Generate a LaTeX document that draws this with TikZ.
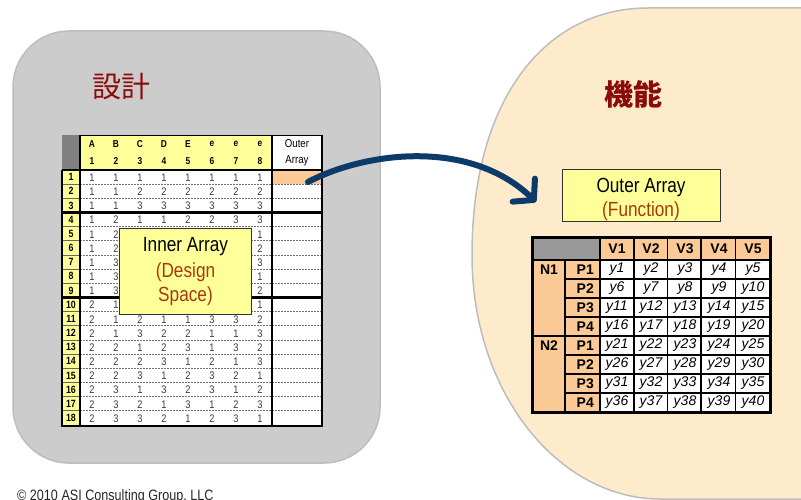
\documentclass[tikz,border=0pt]{standalone}
\usepackage{fontspec}
\setmainfont{Liberation Sans}
\newfontfamily\narrowfont[FakeStretch=0.84]{Liberation Sans}
\newfontfamily\cjk{Noto Sans CJK JP}
\usetikzlibrary{arrows.meta}

\definecolor{panelgray}{HTML}{CCCCCC}
\definecolor{paneledge}{HTML}{BDBDBD}
\definecolor{cream}{HTML}{FDEBCC}
\definecolor{paleyellow}{HTML}{FFFF99}
\definecolor{peach}{HTML}{FCCA96}
\definecolor{darkred}{HTML}{8B0A0A}
\definecolor{rust}{HTML}{A63A0E}
\definecolor{navy}{HTML}{0B3A6B}
\definecolor{cellgray}{HTML}{999999}
\definecolor{cornergray}{HTML}{808080}
\definecolor{digitgray}{HTML}{3A3A3A}

\tikzset{
  title/.style={font=\cjk\fontsize{29}{32}\selectfont, text=darkred, inner sep=0pt},
  lcell/.style={font=\narrowfont\fontsize{11}{12}\selectfont, text=digitgray, inner sep=0pt},
  lnum/.style={font=\narrowfont\bfseries\fontsize{10.5}{12}\selectfont, inner sep=0pt},
  lhead/.style={font=\narrowfont\bfseries\fontsize{10}{11}\selectfont, inner sep=0pt},
  callout/.style={fill=paleyellow, draw=black!80, line width=0.8pt},
  calloutfont/.style={font=\narrowfont\fontsize{20.5}{24}\selectfont, inner sep=0pt},
  rhead/.style={font=\bfseries\fontsize{14}{16}\selectfont, inner sep=0pt},
  rcell/.style={font=\itshape\fontsize{14}{16}\selectfont, inner sep=0pt},
  thickrule/.style={line width=2.6pt},
  gridrule/.style={line width=1.3pt},
  rowrule/.style={draw=black!55, line width=0.8pt, dash pattern=on 2pt off 1pt},
}

% one row of the L18 inner array: row number, then eight levels;
% rows 5-10, columns 3-7 sit under the callout and are left out
\newcommand\lrow[9]{%
  \node[lnum] (n#1) at (71,{170+14.17*(#1-0.5)}) {#1};
  \foreach \v [count=\c] in {#2,#3,#4,#5,#6,#7,#8,#9}{
    \pgfmathtruncatemacro\hidden{(#1>4)*(#1<11)*(\c>2)*(\c<8)}
    \ifnum\hidden=0
      \node[lcell] (L#1-\c) at ({68+24*\c},{170+14.17*(#1-0.5)+0.5}) {\v};
    \fi
  }
}

% one row of the outer array: position label, then five responses
\newcommand\rrow[2]{%
  \node[rhead, anchor=east] (P#1) at (594,{260+19*(#1-0.5)}) {P#2};
  \foreach \c in {1,...,5}{
    \pgfmathtruncatemacro\k{5*(#1-1)+\c}
    \node[rcell] (y\k) at ({600+34*(\c-0.5)},{260+19*(#1-0.5)}) {y\k};
  }
}

\begin{document}
\begin{tikzpicture}[x=1pt,y=-1pt]
\useasboundingbox (0,0) rectangle (801,500);
\clip (0,0) rectangle (801,500);

% design panel
\draw[fill=panelgray, draw=paneledge, line width=1.5pt, rounded corners=56pt]
  (13,31) rectangle (380,463);
\node[title] (design) at (121,87) {設計};

% function panel
\draw[fill=cream, draw=paneledge, line width=1.5pt]
  (820,8) -- (648,8) .. controls (548,8) and (472,95) .. (472,255)
  .. controls (472,395) and (560,499) .. (660,499) -- (820,499);
\node[title, font=\cjk\bfseries\fontsize{29}{32}\selectfont] (function) at (633,94) {機能};

% ---------- inner array (L18) ----------
\fill[cornergray] (62,135) rectangle (80,170);
\fill[paleyellow] (80,135) rectangle (272,170);
\fill[white] (272,135) rectangle (322,170);
\fill[paleyellow] (62,170) rectangle (80,426);
\fill[white] (80,170) rectangle (322,426);
\fill[peach] (272,171) rectangle (322,184.2);

\foreach \i in {1,...,17}{
  \draw[black!60, line width=0.8pt] (62,{170+14.17*\i}) -- (80,{170+14.17*\i});
  \draw[rowrule] (80,{170+14.17*\i}) -- (322,{170+14.17*\i});
}
\draw[black, line width=0.8pt] (80,135) -- (322,135);
\draw[thickrule] (62,170) -- (322,170);
\draw[thickrule] (62,212.5) -- (322,212.5);
\draw[thickrule] (62,297.5) -- (322,297.5);
\draw[thickrule] (61,426) -- (323,426);
\draw[thickrule] (62,170) -- (62,426);
\draw[thickrule] (80,135) -- (80,426);
\draw[thickrule] (272,135) -- (272,426);
\draw[thickrule] (322,135) -- (322,426);

\foreach \h [count=\c] in {A,B,C,D,E,e,e,e}{
  \node[lhead] (hA\c) at ({68+24*\c},144) {\h};
  \node[lhead] (hB\c) at ({68+24*\c},161) {\c};
}
\node[lcell, text=black, font=\narrowfont\fontsize{11.5}{12}\selectfont] (outerhead) at (297,144) {Outer};
\node[lcell, text=black, font=\narrowfont\fontsize{11.5}{12}\selectfont] (outerhead2) at (297,161) {Array};
\coordinate (outerstart) at (308,182);

\lrow{1}{1}{1}{1}{1}{1}{1}{1}{1}
\lrow{2}{1}{1}{2}{2}{2}{2}{2}{2}
\lrow{3}{1}{1}{3}{3}{3}{3}{3}{3}
\lrow{4}{1}{2}{1}{1}{2}{2}{3}{3}
\lrow{5}{1}{2}{2}{2}{3}{3}{1}{1}
\lrow{6}{1}{2}{3}{3}{1}{1}{2}{2}
\lrow{7}{1}{3}{1}{2}{1}{3}{2}{3}
\lrow{8}{1}{3}{2}{3}{2}{1}{3}{1}
\lrow{9}{1}{3}{3}{1}{3}{2}{1}{2}
\lrow{10}{2}{1}{1}{3}{3}{2}{2}{1}
\lrow{11}{2}{1}{2}{1}{1}{3}{3}{2}
\lrow{12}{2}{1}{3}{2}{2}{1}{1}{3}
\lrow{13}{2}{2}{1}{2}{3}{1}{3}{2}
\lrow{14}{2}{2}{2}{3}{1}{2}{1}{3}
\lrow{15}{2}{2}{3}{1}{2}{3}{2}{1}
\lrow{16}{2}{3}{1}{3}{2}{3}{1}{2}
\lrow{17}{2}{3}{2}{1}{3}{1}{2}{3}
\lrow{18}{2}{3}{3}{2}{1}{2}{3}{1}

% inner array callout
\draw[callout] (119.5,228) rectangle (251.5,314);
\node[calloutfont] (innerlabel) at (185.5,247) {Inner Array};
\node[calloutfont, text=rust] (innerdesign) at (185.5,272) {(Design};
\node[calloutfont, text=rust] (innerspace) at (185.5,296) {Space)};

% ---------- outer array callout ----------
\draw[callout] (562,169) rectangle (720.5,221);
\node[calloutfont] (outerlabel) at (641,187) {Outer Array};
\node[calloutfont, text=rust] (outerfunc) at (641,211) {(Function)};

% ---------- outer array table ----------
\fill[cellgray] (532,237) rectangle (600,260);
\fill[peach] (600,237) rectangle (770,260);
\fill[peach] (532,260) rectangle (600,412);
\fill[white] (600,260) rectangle (770,412);
\foreach \i in {1,...,7}
  \draw[gridrule] (565,{260+19*\i}) -- (770,{260+19*\i});
\foreach \x in {634,667.5,701,735.5}
  \draw[gridrule] (\x,237) -- (\x,412);
\draw[thickrule] (532,260) -- (770,260);
\draw[thickrule] (532,336) -- (770,336);
\draw[thickrule] (565,260) -- (565,412);
\draw[thickrule] (600,237) -- (600,412);
\draw[line width=3pt] (532,237) rectangle (770,412);

\foreach \c in {1,...,5}
  \node[rhead] (V\c) at ({600+34*(\c-0.5)},249) {V\c};
\node[rhead] (N1) at (549,269.5) {N1};
\node[rhead] (N2) at (549,345.5) {N2};
\rrow{1}{1}
\rrow{2}{2}
\rrow{3}{3}
\rrow{4}{4}
\rrow{5}{1}
\rrow{6}{2}
\rrow{7}{3}
\rrow{8}{4}
\coordinate (outertarget) at (536,202);

% link from the outer-array column to the outer array
\draw[navy, line width=6pt, line cap=round,
      -{Straight Barb[length=14pt, width=32pt, line cap=round, line join=round]}]
  (outerstart) .. controls (365,152) and (470,138) .. (outertarget);

% footer
\node[font=\narrowfont\fontsize{15}{16}\selectfont, text=black!85, anchor=north west, inner sep=0pt]
  (copyright) at (17,489.5) {© 2010 ASI Consulting Group, LLC};
\end{tikzpicture}
\end{document}
